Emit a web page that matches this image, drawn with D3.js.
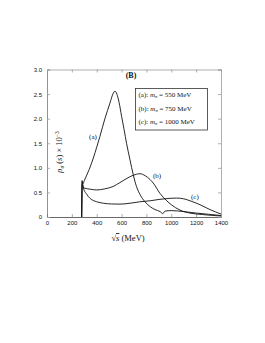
<!DOCTYPE html>
<html><head><meta charset="utf-8">
<script src="https://cdn.jsdelivr.net/npm/d3@7"></script>
<style>body{margin:0;background:#fff}svg{display:block}</style>
</head><body>
<script>
const xTicks = [0,200,400,600,800,1000,1200,1400];
const yTicks = [0,0.5,1.0,1.5,2.0,2.5,3.0];
const yTickLabels = ["0","0.5","1.0","1.5","2.0","2.5","3.0"];
const curveA = [[279,0],[282,0.74],[290,0.68],[300,0.74],[340,0.97],[373,1.2],[400,1.42],[426,1.64],[467,2.01],[507,2.32],[530,2.5],[547,2.56],[562,2.5],[580,2.33],[600,2.05],[620,1.78],[640,1.5],[668,1.16],[694,0.86],[720,0.62],[750,0.45],[788,0.31],[830,0.21],[870,0.15],[910,0.11],[932,0.07],[950,0.12],[1000,0.13],[1100,0.11],[1200,0.08],[1300,0.055],[1400,0.03]];
const curveB = [[279,0],[283,0.66],[292,0.6],[306,0.585],[350,0.565],[400,0.55],[460,0.57],[531,0.62],[587,0.7],[668,0.82],[720,0.87],[748,0.88],[790,0.84],[830,0.76],[855,0.69],[909,0.48],[963,0.33],[1000,0.25],[1070,0.14],[1150,0.08],[1250,0.05],[1400,0.02]];
const curveC = [[279,0],[284,0.72],[292,0.6],[320,0.46],[346,0.38],[400,0.31],[453,0.28],[520,0.265],[587,0.262],[668,0.28],[748,0.31],[830,0.33],[909,0.36],[990,0.38],[1043,0.385],[1100,0.37],[1151,0.33],[1231,0.25],[1312,0.15],[1400,0.06]];
const curveLabels = [["(a)",370,1.58],["(b)",885,0.8],["(c)",1190,0.37]];
const legendLines = [["(a):  ","=  550 MeV"],["(b):  ","=  750 MeV"],["(c):  ","= 1000 MeV"]];

const W=265,H=343;
const svg=d3.select("body").append("svg").attr("width",W).attr("height",H);
const L=47,R=221,T=69.5,B=217;
const x=d3.scaleLinear().domain([0,1400]).range([L,R]);
const y=d3.scaleLinear().domain([0,3]).range([B,T]);
const frame="#9a9a9a";
const g=svg.append("g");
const tickFont="Liberation Sans, Arial, sans-serif";
const ax=g.append("g").attr("transform",`translate(0,${B})`).call(d3.axisBottom(x).tickValues(xTicks).tickSize(-3).tickPadding(4).tickFormat(d3.format("d")));
const ay=g.append("g").attr("transform",`translate(${L},0)`).call(d3.axisLeft(y).tickValues(yTicks).tickSize(-3).tickPadding(5).tickFormat((d,i)=>yTickLabels[i]));
const ar=g.append("g").attr("transform",`translate(${R},0)`).call(d3.axisRight(y).tickValues(yTicks).tickSize(-3).tickFormat(""));
const at=g.append("g").attr("transform",`translate(0,${T})`).call(d3.axisTop(x).tickValues(xTicks).tickSize(-3).tickFormat(""));
[ax,ay,ar,at].forEach(a=>{a.selectAll("path,line").attr("stroke",frame).attr("stroke-width",0.8);a.selectAll("text").attr("font-family",tickFont).attr("font-size",6).attr("fill","#111");});
ax.select("path").attr("stroke","#444");
ay.select("path").attr("stroke","#777");
const line=d3.line().x(d=>x(d[0])).y(d=>y(d[1])).curve(d3.curveMonotoneX);
[curveA,curveB,curveC].forEach(c=>{
  g.append("path").attr("d",line(c)).attr("fill","none").attr("stroke","#111").attr("stroke-width",0.9);
});
const serif="Liberation Serif, Times New Roman, serif";
curveLabels.forEach(l=>{
  g.append("text").attr("x",x(l[1])).attr("y",y(l[2])).attr("text-anchor","middle").attr("font-family",serif).attr("font-size",7).attr("fill","#111").text(l[0]);
});
g.append("text").attr("x",131).attr("y",78).attr("text-anchor","middle").attr("font-family",serif).attr("font-size",8).attr("font-weight","bold").attr("fill","#111").text("(B)");
g.append("rect").attr("x",135.5).attr("y",88.5).attr("width",72).attr("height",41.5).attr("fill","#fff").attr("stroke","#333").attr("stroke-width",0.8);
legendLines.forEach((l,i)=>{
  const t=g.append("text").attr("x",138.5).attr("y",97+i*13.5).attr("font-family",serif).attr("font-size",7).attr("fill","#111");
  t.append("tspan").text(l[0]);
  t.append("tspan").attr("font-style","italic").text("m");
  t.append("tspan").attr("font-style","italic").attr("font-size",4.5).attr("dy",1.2).text("σ");
  t.append("tspan").attr("dy",-1.2).text(" "+l[1]);
});
const xt=g.append("text").attr("x",128).attr("y",241).attr("text-anchor","middle").attr("font-family",serif).attr("font-size",8.5).attr("fill","#111");
xt.append("tspan").text("√");
xt.append("tspan").attr("font-style","italic").attr("text-decoration","overline").text("s");
xt.append("tspan").text(" (MeV)");
const yt=g.append("text").attr("transform",`translate(62,152) rotate(-90)`).attr("text-anchor","middle").attr("font-family",serif).attr("font-size",8.5).attr("fill","#111");
yt.append("tspan").attr("font-style","italic").text("ρ");
yt.append("tspan").attr("font-style","italic").attr("font-size",5.5).attr("dy",1.5).text("σ");
yt.append("tspan").attr("dy",-1.5).text(" (");
yt.append("tspan").attr("font-style","italic").text("s");
yt.append("tspan").text(") × 10");
yt.append("tspan").attr("font-size",5.5).attr("dy",-3.5).text("−3");
</script>
</body></html>
